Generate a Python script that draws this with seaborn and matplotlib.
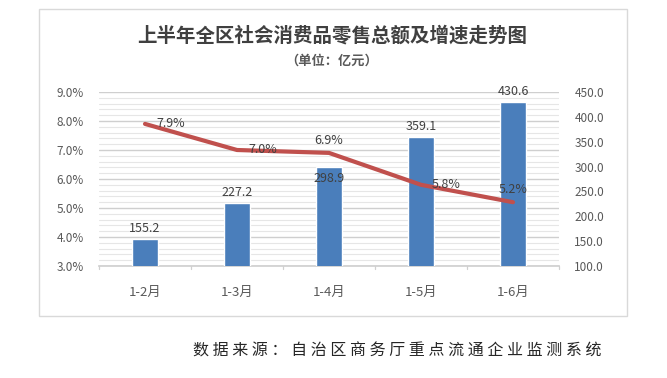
import matplotlib
matplotlib.use("Agg")
import matplotlib.pyplot as plt
import seaborn as sns
import numpy as np
import pandas as pd
from matplotlib.patches import Rectangle

sns.set_theme(style="white")
plt.rcParams['font.family'] = ['Noto Sans CJK SC', 'DejaVu Sans']

categories = ["1-2月", "1-3月", "1-4月", "1-5月", "1-6月"]
sales = [155.2, 227.2, 298.9, 359.1, 430.6]
growth = [7.9, 7.0, 6.9, 5.8, 5.2]
left_ticks = [3.0, 4.0, 5.0, 6.0, 7.0, 8.0, 9.0]
right_ticks = [100, 150, 200, 250, 300, 350, 400, 450]
title = "上半年全区社会消费品零售总额及增速走势图"
subtitle = "（单位：亿元）"
source = "数据来源：自治区商务厅重点流通企业监测系统"

df = pd.DataFrame({"period": categories, "sales": sales, "growth": growth})

W, H = 667, 378
fig = plt.figure(figsize=(W / 100, H / 100), dpi=100)
fig.patch.set_facecolor("white")

# outer chart border
fig.patches.append(Rectangle((39 / W, 1 - 316 / H), (627 - 39) / W, (316 - 9) / H,
                             transform=fig.transFigure, fill=False,
                             edgecolor="#d9d9d9", linewidth=1.0))

ax = fig.add_axes([99 / W, 1 - 266 / H, 460 / W, 174 / H])
ax2 = ax.twinx()

# bars on the primary axis (right scale)
sns.barplot(data=df, x="period", y="sales", ax=ax, color="#4a7ebb",
            width=0.28, saturation=1, zorder=3)
ax.set_ylim(100, 450)
ax.set_xlim(-0.5, len(categories) - 0.5)

# gridlines follow left (percent) scale
lo, hi = left_ticks[0], left_ticks[-1]
def pct_to_bar(p):
    return 100 + (p - lo) * 350 / (hi - lo)
for p in np.arange(lo, hi + 0.001, 0.2):
    major = abs(p - round(p)) < 1e-6
    ax.axhline(pct_to_bar(p), color="#cfcfcf" if major else "#e6e6e6",
               linewidth=1.0 if major else 0.8, zorder=1)

ax.yaxis.tick_right()
ax.set_yticks(right_ticks)
ax.set_yticklabels([f"{v:.1f}" for v in right_ticks], color="#595959", fontsize=8.5)
ax.tick_params(axis="y", which="both", left=False, right=False, labelleft=False,
               labelright=True, length=0, pad=11)
ax.set_xlabel("")
ax.set_ylabel("")
ax.set_xticks(range(len(categories)))
ax.set_xticklabels(categories, color="#595959", fontsize=9.5)
ax.tick_params(axis="x", length=0, pad=14)
for b in np.arange(-0.5, len(categories), 1.0):
    ax.plot([b, b], [100, 100 - 6], color="#d0d0d0", linewidth=0.9, clip_on=False, zorder=2)
for s in ["top", "left", "right"]:
    ax.spines[s].set_visible(False)
ax.spines["bottom"].set_color("#d0d0d0")
ax.spines["bottom"].set_zorder(2)

# bar labels
bar_offsets = [8, 8, -9, 8, 8]
for i, (v, off) in enumerate(zip(sales, bar_offsets)):
    ax.text(i, v + off, f"{v:.1f}", ha="center", va="bottom" if off > 0 else "top",
            fontsize=9, color="#404040", zorder=6)

# line on the secondary axis (left scale)
sns.lineplot(data=df, x="period", y="growth", ax=ax2, color="#c0504d",
             linewidth=3, sort=False, zorder=5)
ax2.set_ylim(lo, hi)
ax2.set_yticks(left_ticks)
ax2.set_yticklabels([f"{v:.1f}%" for v in left_ticks], color="#595959", fontsize=8.5)
ax2.tick_params(axis="y", which="both", left=False, right=False, labelleft=True,
                labelright=False, length=0, pad=11)
ax2.set_ylabel("")
ax2.set_xlabel("")
for s in ["top", "left", "right", "bottom"]:
    ax2.spines[s].set_visible(False)

# line labels
line_pos = ["right", "right", "above", "right", "above"]
for i, (v, pos) in enumerate(zip(growth, line_pos)):
    if pos == "right":
        ax2.text(i + 0.12, v + 0.02, f"{v:.1f}%", ha="left", va="center",
                 fontsize=9, color="#404040", zorder=6)
    else:
        ax2.text(i, v + 0.22, f"{v:.1f}%", ha="center", va="bottom",
                 fontsize=9, color="#404040", zorder=6)

fig.text(332 / W, 1 - 36 / H, title, ha="center", va="center",
         fontsize=14, fontweight="bold", color="#404040")
fig.text(332 / W, 1 - 61 / H, subtitle, ha="center", va="center",
         fontsize=9.5, fontweight="bold", color="#595959")
fig.text(397 / W, 1 - 351 / H, " ".join(source), ha="center", va="center",
         fontsize=11.5, color="#262626")

fig.savefig("out.png", dpi=100, facecolor="white")
